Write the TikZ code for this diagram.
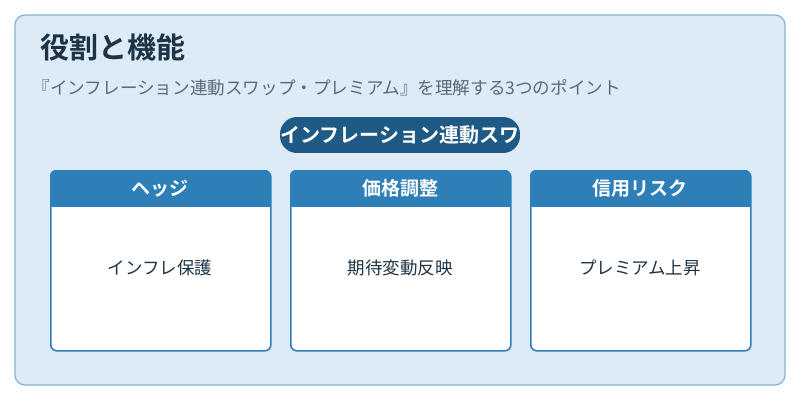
\documentclass[tikz,border=0pt]{standalone}
\usepackage{fontspec}
\setmainfont{Noto Sans CJK JP}
\newfontfamily\jpbold{Noto Sans CJK JP Bold}
\usetikzlibrary{positioning}
\definecolor{panelbg}{HTML}{DCEBF6}
\definecolor{panelline}{HTML}{7FB4D8}
\definecolor{headblue}{HTML}{2E7FB8}
\definecolor{pillblue}{HTML}{1F5A85}
\definecolor{titlecol}{HTML}{1E3446}
\definecolor{subcol}{HTML}{5A6B78}
\tikzset{
  cardbody/.style={draw=headblue, line width=1.6pt, fill=white, rounded corners=6pt, minimum width=220pt, minimum height=180pt, anchor=north west},
  cardtext/.style={text=titlecol, font=\fontsize{17.5}{20}\selectfont}
}
\begin{document}
\begin{tikzpicture}[x=1pt, y=-1pt]
  \useasboundingbox (0,0) rectangle (800,400);
  \fill[white] (0,0) rectangle (800,400);
  \draw[panelline, fill=panelbg, line width=1.2pt, rounded corners=10pt] (15,15) rectangle (785,385);
  \node[anchor=west, text=titlecol, font=\jpbold\fontsize{29}{32}\selectfont] (title) at (37,47) {役割と機能};
  \node[anchor=west, text=subcol, font=\fontsize{17.6}{20}\selectfont] (sub) at (29,88) {『インフレーション連動スワップ・プレミアム』を理解する3つのポイント};
  \begin{scope}
    \clip[rounded corners=17pt] (280,117) rectangle (520,153);
    \fill[pillblue] (280,117) rectangle (520,153);
    \node[text=white, font=\jpbold\fontsize{20}{22}\selectfont, inner sep=0pt] (pill) at (400,135) {インフレーション連動スワ};
  \end{scope}
  \foreach \x/\head/\body [count=\i] in {50/ヘッジ/インフレ保護, 290/価格調整/期待変動反映, 530/信用リスク/プレミアム上昇}{
    \node[cardbody] (card\i) at (\x,170) {};
    \begin{scope}
      \clip[rounded corners=6pt] (\x,170) rectangle (\x+220,260);
      \fill[headblue] (\x,170) rectangle (\x+220,207);
    \end{scope}
    \node[text=white, font=\jpbold\fontsize{19}{21}\selectfont] (head\i) at (\x+110,188.5) {\head};
    \node[cardtext] (text\i) at (\x+110,268) {\body};
  }
\end{tikzpicture}
\end{document}
